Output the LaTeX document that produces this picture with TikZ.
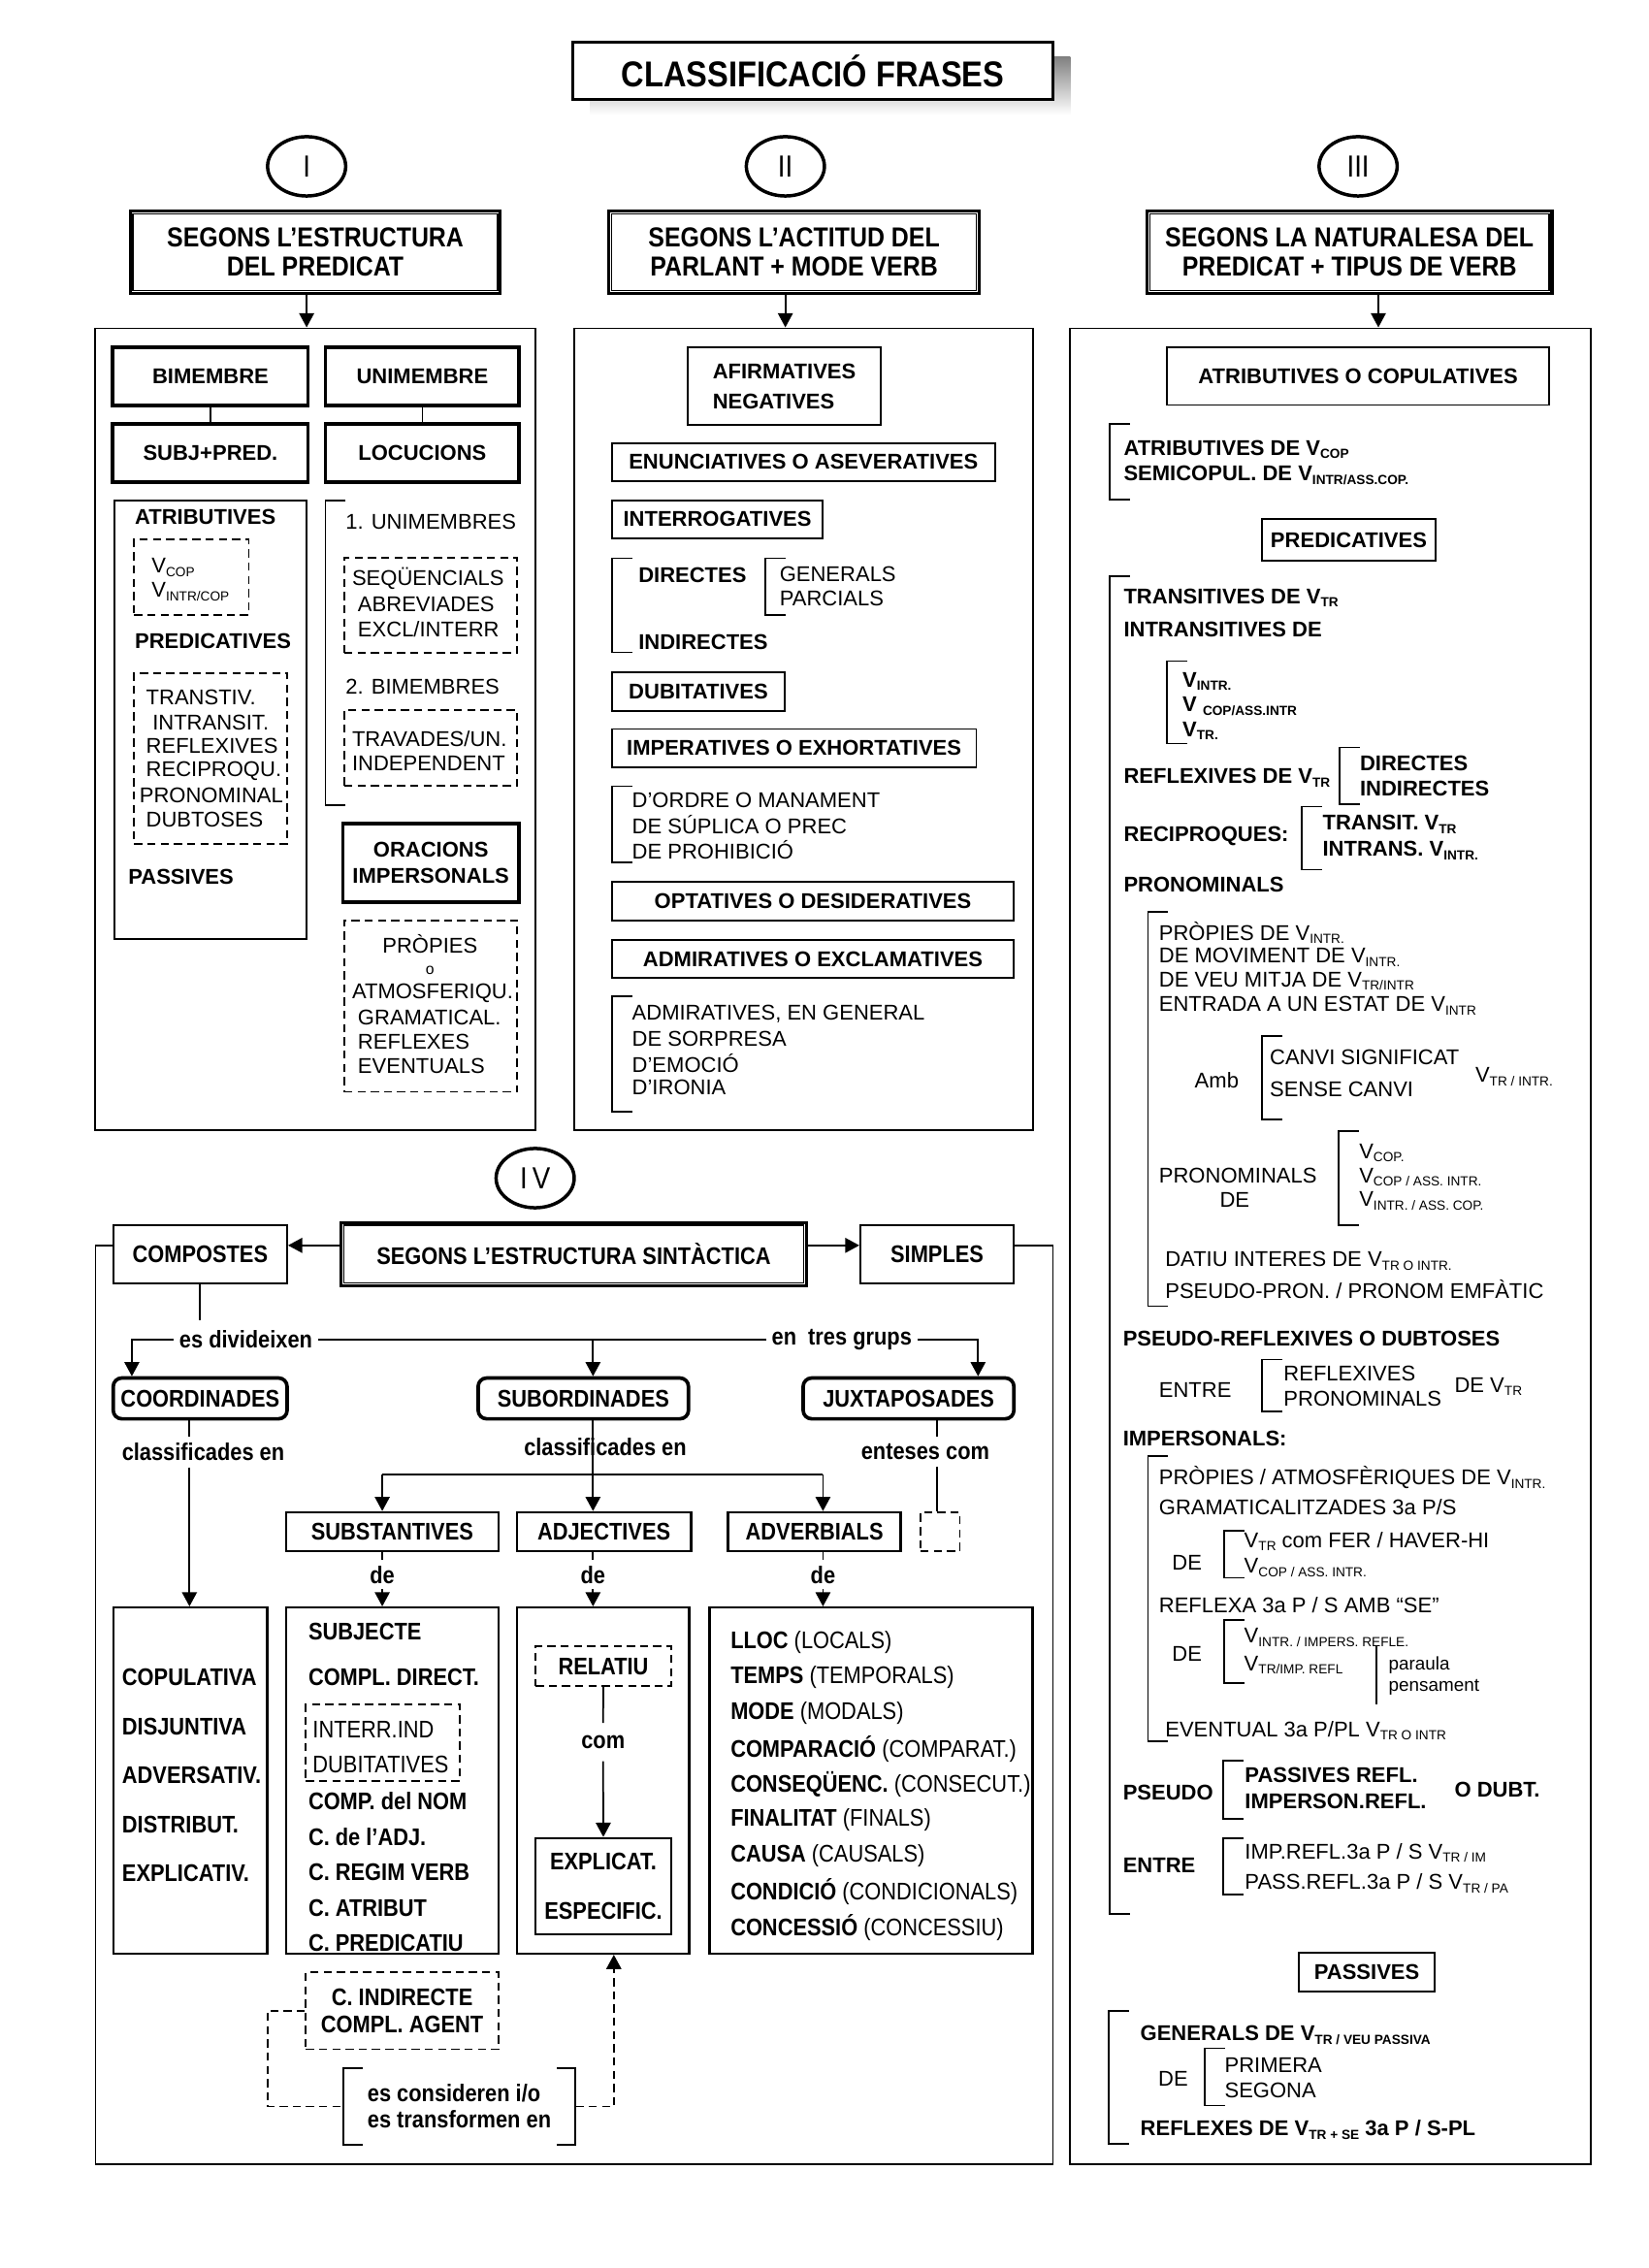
\documentclass[tikz,border=0pt]{standalone}
\usepackage{fontspec}
\setmainfont{Liberation Sans}
\newfontfamily\narrowf[FakeStretch=0.88]{Liberation Sans}
\usetikzlibrary{arrows.meta,shapes.geometric}
\definecolor{shade}{RGB}{198,190,202}
\newcommand{\fnr}{\fontsize{6.3}{7.6}\selectfont}
\newcommand{\fnb}{\fontsize{6.3}{7.6}\selectfont\bfseries}
\newcommand{\fiv}{\narrowf\fontsize{7.1}{7.7}\selectfont\bfseries}
\newcommand{\fivr}{\narrowf\fontsize{7.1}{7.7}\selectfont}
\newcommand{\fhead}{\narrowf\fontsize{8.1}{8.6}\selectfont\bfseries}
\newcommand{\sbx}[1]{\raisebox{-0.3ex}{\scalebox{0.62}{#1}}}
\newcommand{\innerframe}[1]{\draw[line width=0.4pt] ([shift={(3,3)}]#1.north west) rectangle ([shift={(-3,-3)}]#1.south east);}
\newcommand{\brk}[3]{\draw[brkline] (#1+14,#2) -- (#1,#2) -- (#1,#3) -- (#1+14,#3);}
\tikzset{sz/.style 2 args={minimum width=#1*0.15mm, minimum height=#2*0.15mm}}

\begin{document}
\begin{tikzpicture}[x=0.15mm, y=-0.15mm, >={Triangle[length=4.2pt,width=4.4pt]}]
\tikzstyle{lbl} = [anchor=west, inner sep=0pt, font=\fnr]
\tikzstyle{blbl} = [anchor=west, inner sep=0pt, font=\fnb]
\tikzstyle{ivlbl} = [anchor=west, inner sep=0pt, font=\fiv]
\tikzstyle{plainbox} = [draw, line width=0.55pt, inner sep=0pt]
\tikzstyle{heavybox} = [draw, line width=1.05pt, inner sep=0pt, font=\fnb]
\tikzstyle{dashbox} = [draw, line width=0.5pt, dash pattern=on 2.4pt off 1.5pt, inner sep=0pt]
\tikzstyle{roundbox} = [draw, line width=1.05pt, rounded corners=2.5pt, inner sep=0pt, font=\fiv]
\tikzstyle{headbox} = [draw, line width=0.9pt, inner sep=0pt, align=center]
\tikzstyle{numeral} = [draw, ellipse, line width=1pt, inner sep=0pt, sz={54}{41}, font=\narrowf\fontsize{9}{9}\selectfont]
\tikzstyle{brkline} = [line width=0.5pt]
\tikzstyle{link} = [line width=0.5pt]
\tikzstyle{dashlink} = [line width=0.5pt, dash pattern=on 2.4pt off 1.5pt]

\fill[white] (0,0) rectangle (1140,1568);
\useasboundingbox (0,0) rectangle (1140,1568);

% title
\fill[shade] (408,39) rectangle (740,79.3);
\node[draw, line width=0.8pt, fill=white, inner sep=0pt, sz={332}{40}, font=\narrowf\fontsize{10.6}{12}\selectfont\bfseries] (title) at (562,49) {CLASSIFICACIÓ FRASES};

\node[numeral] (numI) at (212,115) {I};
\node[numeral] (numII) at (543,115) {II};
\node[numeral] (numIII) at (939,115) {III};
\node[numeral] (numIV) at (370,814.5) {I\,V};

\node[headbox, sz={256}{57}, font=\fhead] (headI) at (218,174.5) {SEGONS L’ESTRUCTURA\\DEL PREDICAT};
\node[headbox, sz={256}{57}, font=\fhead] (headII) at (549,174.5) {SEGONS L’ACTITUD DEL\\PARLANT + MODE VERB};
\node[headbox, sz={280}{57}, font=\fhead] (headIII) at (933,174.5) {SEGONS LA NATURALESA DEL\\PREDICAT + TIPUS DE VERB};
\innerframe{headI}
\innerframe{headII}
\innerframe{headIII}

\node[plainbox, sz={304}{554}] (boxI) at (218,504) {};
\node[plainbox, sz={317}{554}] (boxII) at (555.5,504) {};
\node[plainbox, sz={360}{1269}] (boxIII) at (920,861.5) {};
\coordinate (arIII) at (953,200);
\draw[link,->] (headI.south -| numI) -- (boxI.north -| numI);
\draw[link,->] (headII.south -| numII) -- (boxII.north -| numII);
\draw[link,->] (headIII.south -| arIII) -- (boxIII.north -| arIII);

% I
\node[heavybox, sz={135}{40.5}] (bime) at (145.5,260.2) {BIMEMBRE};
\node[heavybox, sz={134}{40.5}] (unime) at (292,260.2) {UNIMEMBRE};
\node[heavybox, sz={135}{40.5}] (subj) at (145.5,313.2) {SUBJ+PRED.};
\node[heavybox, sz={134}{40.5}] (locu) at (292,313.2) {LOCUCIONS};
\draw[link] (bime.south) -- (subj.north);
\draw[link] (unime.south) -- (locu.north);

\node[plainbox, sz={133}{303.4}] (bilist) at (145.5,497.7) {};
\node[blbl] (atri) at (92.8,357.6) {ATRIBUTIVES};
\node[dashbox, sz={79.2}{52}] (vcop) at (132.4,399) {};
\node[lbl] (vcop1) at (104.4,392.3) {V\sbx{COP}};
\node[lbl] (vcop2) at (104.4,409) {V\sbx{INTR/COP}};
\node[blbl] (pred) at (92.8,443.3) {PREDICATIVES};
\node[dashbox, sz={105.7}{118}] (predl) at (145.65,524.4) {};
\node[lbl] (pr1) at (100.6,482.4) {TRANSTIV.};
\node[lbl] (pr2) at (105,499.6) {INTRANSIT.};
\node[lbl] (pr3) at (100.6,515.9) {REFLEXIVES};
\node[lbl] (pr4) at (100.6,533) {RECIPROQU.};
\node[lbl] (pr5) at (96,550) {PRONOMINAL};
\node[lbl] (pr6) at (100.6,566.7) {DUBTOSES};
\node[blbl] (pass) at (88.3,606.2) {PASSIVES};

\brk{225}{346}{556.6}
\node[lbl] (uni1) at (238.5,361) {1. UNIMEMBRES};
\node[dashbox, sz={119.7}{65.9}] (unil) at (297.85,418.55) {};
\node[lbl] (un1) at (243,400) {SEQÜENCIALS};
\node[lbl] (un2) at (247,417.6) {ABREVIADES};
\node[lbl] (un3) at (247,435) {EXCL/INTERR};
\node[lbl] (bim2) at (238.5,475) {2. BIMEMBRES};
\node[dashbox, sz={119.7}{52.2}] (biml) at (297.85,517.1) {};
\node[lbl] (bm1) at (243,510.8) {TRAVADES/UN.};
\node[lbl] (bm2) at (243,527.5) {INDEPENDENT};
\node[heavybox, sz={121.8}{54.1}, align=center] (orac) at (297.9,596.65) {ORACIONS\\IMPERSONALS};
\node[dashbox, sz={119.7}{118.5}] (oracl) at (297.85,695.65) {};
\node[inner sep=0pt, font=\fnr] (or1) at (297.3,652.7) {PRÒPIES};
\node[inner sep=0pt, font=\fontsize{4.5}{5}\selectfont] (or2) at (297.3,670.6) {o};
\node[lbl] (or3) at (243,687) {ATMOSFERIQU.};
\node[lbl] (or4) at (247,703.7) {GRAMATICAL.};
\node[lbl] (or5) at (247,720.5) {REFLEXES};
\node[lbl] (or6) at (247,737.2) {EVENTUALS};

% II
\node[plainbox, sz={133.5}{54}, align=left, font=\fontsize{6.3}{8.8}\selectfont\bfseries] (afirm) at (542.25,267) {AFIRMATIVES\\NEGATIVES};
\node[plainbox, sz={265}{26.3}, font=\fnb] (enun) at (555.5,319.45) {ENUNCIATIVES O ASEVERATIVES};
\node[plainbox, sz={146}{26}, font=\fnb] (inter) at (496,359) {INTERROGATIVES};
\brk{423}{386}{451}
\node[blbl] (dir) at (441,397.8) {DIRECTES};
\node[blbl] (indir) at (441,444) {INDIRECTES};
\brk{529}{386}{425}
\node[lbl] (gen) at (538.6,397) {GENERALS};
\node[lbl] (parc) at (538.6,413.6) {PARCIALS};
\node[plainbox, sz={119.7}{26.5}, font=\fnb] (dubi) at (482.85,478.25) {DUBITATIVES};
\node[plainbox, sz={252}{26.5}, font=\fnb] (imper) at (549,517.25) {IMPERATIVES O EXHORTATIVES};
\brk{423}{543.6}{596}
\node[lbl] (im1) at (436.6,553) {D’ORDRE O MANAMENT};
\node[lbl] (im2) at (436.6,570) {DE SÚPLICA O PREC};
\node[lbl] (im3) at (436.6,587.5) {DE PROHIBICIÓ};
\node[plainbox, sz={278}{27}, font=\fnb] (opta) at (562,623.1) {OPTATIVES O DESIDERATIVES};
\node[plainbox, sz={278}{26}, font=\fnb] (admi) at (562,663) {ADMIRATIVES O EXCLAMATIVES};
\brk{423}{689}{768.6}
\node[lbl] (ad1) at (436.6,701) {ADMIRATIVES, EN GENERAL};
\node[lbl] (ad2) at (436.6,718) {DE SORPRESA};
\node[lbl] (ad3) at (436.6,735) {D’EMOCIÓ};
\node[lbl] (ad4) at (436.6,752) {D’IRONIA};

% III
\node[plainbox, sz={264}{40}, font=\fnb] (copul) at (939,260) {ATRIBUTIVES O COPULATIVES};
\brk{767}{293.3}{345.4}
\node[blbl] (at1) at (776.5,310.7) {ATRIBUTIVES DE V\sbx{COP}};
\node[blbl] (at2) at (776.5,328.6) {SEMICOPUL. DE V\sbx{INTR/ASS.COP.}};
\node[plainbox, sz={120.5}{29}, font=\fnb] (predi) at (932.55,373.3) {PREDICATIVES};
\brk{767}{398.3}{1323.3}
\node[blbl] (tr1) at (776.5,413.5) {TRANSITIVES DE V\sbx{TR}};
\node[blbl] (tr2) at (776.5,435.4) {INTRANSITIVES DE};
\brk{807}{457}{514}
\node[blbl] (vi1) at (817.2,471) {V\sbx{INTR.}};
\node[blbl] (vi2) at (817.2,488.4) {V\ \sbx{COP/ASS.INTR}};
\node[blbl] (vi3) at (817.2,505.2) {V\sbx{TR.}};
\node[blbl] (refl) at (776.5,537.6) {REFLEXIVES DE V\sbx{TR}};
\brk{926}{516.8}{556}
\node[blbl] (rf1) at (939.8,527.5) {DIRECTES};
\node[blbl] (rf2) at (939.8,545) {INDIRECTES};
\node[blbl] (reci) at (776.5,577.8) {RECIPROQUES:};
\brk{900}{557.7}{601.3}
\node[blbl] (rc1) at (914,570) {TRANSIT. V\sbx{TR}};
\node[blbl] (rc2) at (914,588) {INTRANS. V\sbx{INTR.}};
\node[blbl] (pron) at (776.5,611.4) {PRONOMINALS};
\brk{793.7}{630.4}{903.1}
\node[lbl] (pn1) at (800.9,644.9) {PRÒPIES DE V\sbx{INTR.}};
\node[lbl] (pn2) at (800.9,661.7) {DE MOVIMENT DE V\sbx{INTR.}};
\node[lbl] (pn3) at (800.9,678.4) {DE VEU MITJA DE V\sbx{TR/INTR}};
\node[lbl] (pn4) at (800.9,695.2) {ENTRADA A UN ESTAT DE V\sbx{INTR}};
\node[lbl] (amb) at (825.6,746.6) {Amb};
\brk{872.7}{716.4}{773.9}
\node[lbl] (cv1) at (877.5,731) {CANVI SIGNIFICAT};
\node[lbl] (cv2) at (877.5,752.9) {SENSE CANVI};
\node[lbl] (cv3) at (1019.6,744.4) {V\sbx{TR / INTR.}};
\node[lbl] (prde1) at (800.9,812.6) {PRONOMINALS};
\node[inner sep=0pt, font=\fnr] (prde2) at (853.6,829.8) {DE};
\brk{925.4}{782}{847.2}
\node[lbl] (pd1) at (939.3,796.9) {V\sbx{COP.}};
\node[lbl] (pd2) at (939.3,813.7) {V\sbx{COP / ASS. INTR.}};
\node[lbl] (pd3) at (939.3,830.4) {V\sbx{INTR. / ASS. COP.}};
\node[lbl] (dat) at (805.2,871.8) {DATIU INTERES DE V\sbx{TR O INTR.}};
\node[lbl] (psp) at (805.2,891.5) {PSEUDO-PRON. / PRONOM EMFÀTIC};
\node[blbl] (psr) at (776,925.4) {PSEUDO-REFLEXIVES O DUBTOSES};
\node[lbl] (ent1) at (800.9,960.8) {ENTRE};
\brk{872.7}{940}{975.7}
\node[lbl] (en1) at (887.1,949.6) {REFLEXIVES};
\node[lbl] (en2) at (887.1,966.8) {PRONOMINALS};
\node[lbl] (en3) at (1005.2,958.5) {DE V\sbx{TR}};
\node[blbl] (impe) at (776,994.7) {IMPERSONALS:};
\brk{793.7}{1006.4}{1203.7}
\node[lbl] (ip1) at (800.9,1021.6) {PRÒPIES / ATMOSFÈRIQUES DE V\sbx{INTR.}};
\node[lbl] (ip2) at (800.9,1041.7) {GRAMATICALITZADES 3a P/S};
\node[lbl] (de1) at (810,1080.1) {DE};
\brk{846.3}{1058.4}{1090.8}
\node[lbl] (ip3) at (859.8,1065.8) {V\sbx{TR} com FER / HAVER-HI};
\node[lbl] (ip4) at (859.8,1083.7) {V\sbx{COP / ASS. INTR.}};
\node[lbl] (ip5) at (800.9,1109.9) {REFLEXA 3a P / S AMB “SE”};
\node[lbl] (de2) at (810,1143.4) {DE};
\brk{846.3}{1119.9}{1163.5}
\node[lbl] (ip6) at (859.8,1132.2) {V\sbx{INTR. / IMPERS. REFLE.}};
\node[lbl] (ip7) at (859.8,1151.2) {V\sbx{TR/IMP. REFL}};
\draw[brkline] (951.8,1137.8) -- (951.8,1178);
\node[anchor=west, inner sep=0pt, font=\fontsize{5.4}{6}\selectfont] (para) at (959.7,1151.2) {paraula};
\node[anchor=west, inner sep=0pt, font=\fontsize{5.4}{6}\selectfont] (pens) at (959.7,1166.4) {pensament};
\node[lbl] (ip8) at (805.2,1196.5) {EVENTUAL 3a P/PL V\sbx{TR O INTR}};
\node[blbl] (pseu) at (776,1239.5) {PSEUDO};
\brk{845.9}{1217.1}{1257.4}
\node[blbl] (ps1) at (860.3,1227.2) {PASSIVES REFL.};
\node[blbl] (ps2) at (860.3,1245.1) {IMPERSON.REFL.};
\node[blbl] (ps3) at (1005.2,1237.3) {O DUBT.};
\node[blbl] (ent2) at (776,1289.8) {ENTRE};
\brk{845.9}{1270.8}{1309.9}
\node[lbl] (et1) at (860.3,1280.9) {IMP.REFL.3a P / S V\sbx{TR / IM}};
\node[lbl] (et2) at (860.3,1302.1) {PASS.REFL.3a P / S V\sbx{TR / PA}};
\node[plainbox, sz={93.9}{26.8}, font=\fnb] (passi) at (945,1363.6) {PASSIVES};
\brk{766.4}{1390.4}{1482}
\node[blbl] (pa1) at (788,1407.1) {GENERALS DE V\sbx{TR / VEU PASSIVA}};
\node[lbl] (de3) at (800.4,1437.3) {DE};
\brk{832.8}{1416.1}{1455.7}
\node[lbl] (pa2) at (846.3,1428) {PRIMERA};
\node[lbl] (pa3) at (846.3,1445.2) {SEGONA};
\node[blbl] (pa4) at (788,1472.6) {REFLEXES DE V\sbx{TR + SE} 3a P / S-PL};

% IV
\node[headbox, sz={322}{43.8}, font=\fiv] (headIV) at (396.7,867.1) {SEGONS L’ESTRUCTURA SINTÀCTICA};
\innerframe{headIV}
\node[plainbox, sz={120.2}{39.8}, font=\fiv] (comp) at (138.4,867.1) {COMPOSTES};
\node[plainbox, sz={106.2}{39.8}, font=\fiv] (simp) at (647.9,867.1) {SIMPLES};
\coordinate (ivl) at (66,861);
\draw[link] (comp.west |- ivl) -- (ivl) -- (66,1496) -- (728,1496) -- (728,861) -- (simp.east |- ivl);
\draw[link,->] (headIV.west |- ivl) -- (comp.east |- ivl);
\draw[link,->] (headIV.east |- ivl) -- (simp.west |- ivl);

\node[roundbox, sz={120.2}{28.2}] (coord) at (138.4,966.8) {COORDINADES};
\node[roundbox, sz={145.4}{28.2}] (subo) at (403.3,966.8) {SUBORDINADES};
\node[roundbox, sz={145.7}{28.2}] (juxt) at (628.15,966.8) {JUXTAPOSADES};
\node[font=\fiv, inner xsep=1.5pt, inner ysep=0pt] (divid) at (170,926) {es divideixen};
\node[font=\fiv, inner xsep=1.5pt, inner ysep=0pt] (grups) at (582,926) {en~ tres grups};
\coordinate (compend) at (138.4,913);
\draw[link] (comp.south) -- (compend);
\draw[link,->] (divid.west) -| ([shift={(14.1,0)}]coord.north west);
\draw[link] (divid.east) -- (grups.west);
\draw[link,->] (grups.east) -| ([shift={(-26,0)}]juxt.north east);
\coordinate (mid) at (410,926);
\draw[link,->] (mid) -- (mid |- subo.north);

\node[plainbox, line width=0.7pt, sz={146.8}{26.8}, font=\fiv] (subst) at (271.2,1058.9) {SUBSTANTIVES};
\node[plainbox, line width=0.7pt, sz={120.3}{26.8}, font=\fiv] (adje) at (417.55,1058.9) {ADJECTIVES};
\node[plainbox, line width=0.7pt, sz={119.4}{26.8}, font=\fiv] (adve) at (563.1,1058.9) {ADVERBIALS};
\node[dashbox, sz={27.2}{26.8}] (blank) at (650,1058.9) {};

\node[plainbox, line width=0.7pt, sz={106.5}{239.2}] (colist) at (131.65,1231) {};
\node[plainbox, line width=0.7pt, sz={146.8}{239.2}] (sblist) at (271.2,1231) {};
\node[plainbox, line width=0.7pt, sz={119}{239.2}] (adlist) at (416.9,1231) {};
\node[plainbox, line width=0.7pt, sz={223.5}{239.2}] (avlist) at (602.25,1231) {};

\node[font=\fiv, inner xsep=0pt, inner ysep=1.8pt] (clsA) at (140.5,1003.7) {classificades en};
\coordinate (colA) at (131,1000);
\draw[link] (coord.south -| colA) -- (clsA.north -| colA);
\draw[link,->] (clsA.south -| colA) -- (colist.north -| colA);

\node[font=\fiv, inner sep=0pt] (clsB) at (418.5,1000.3) {classificades en};
\coordinate (sa) at (264.3,1019.3);
\coordinate (sb) at (410,1019.3);
\coordinate (sc) at (569,1019.3);
\draw[link] (subo.south -| sb) -- (sb);
\draw[link] (sa) -- (sc);
\draw[link,->] (sa) -- (sa |- subst.north);
\draw[link,->] (sb) -- (sb |- adje.north);
\draw[link,->] (sc) -- (sc |- adve.north);

\node[font=\fiv, inner xsep=0pt, inner ysep=1.8pt] (ente) at (639.75,1003.7) {enteses com};
\coordinate (colJ) at (647.6,1000);
\draw[link] (juxt.south -| colJ) -- (ente.north -| colJ);
\draw[link] (ente.south -| colJ) -- (blank.north -| colJ);

\node[font=\fiv, inner xsep=0pt, inner ysep=1.5pt] (deA) at (264.3,1088.6) {de};
\node[font=\fiv, inner xsep=0pt, inner ysep=1.5pt] (deB) at (410,1088.6) {de};
\node[font=\fiv, inner xsep=0pt, inner ysep=1.5pt] (deC) at (569,1088.6) {de};
\draw[link] (subst.south -| deA) -- (deA.north);
\draw[link,->] (deA.south) -- (deA.south |- sblist.north);
\draw[link] (adje.south -| deB) -- (deB.north);
\draw[link,->] (deB.south) -- (deB.south |- adlist.north);
\draw[link] (adve.south -| deC) -- (deC.north);
\draw[link,->] (deC.south) -- (deC.south |- avlist.north);

\foreach \t [count=\i] in {COPULATIVA, DISJUNTIVA, ADVERSATIV., DISTRIBUT., EXPLICATIV.}
  \node[ivlbl] (co\i) at (84,1159.7+33.9*\i-33.9) {\t};

\node[ivlbl] (sb1) at (212.8,1127.7) {SUBJECTE};
\node[ivlbl] (sb2) at (212.8,1159.7) {COMPL. DIRECT.};
\node[dashbox, sz={106.5}{52.7}] (interr) at (264.75,1204.85) {};
\node[anchor=west, inner sep=0pt, font=\fivr] (ii1) at (215.8,1195.9) {INTERR.IND};
\node[anchor=west, inner sep=0pt, font=\fivr] (ii2) at (215.8,1220) {DUBITATIVES};
\foreach \t [count=\i] in {COMP. del NOM, C. de l’ADJ., C. REGIM VERB, C. ATRIBUT, C. PREDICATIU}
  \node[ivlbl] (sc\i) at (212.8,1245.1+24.6*\i-24.6) {\t};

\node[dashbox, sz={93.7}{27.5}, font=\fiv] (relat) at (417.15,1152) {RELATIU};
\node[font=\fiv, inner xsep=0pt, inner ysep=3.5pt] (com) at (417,1204.4) {com};
\node[plainbox, line width=0.7pt, sz={93.7}{66.6}, align=center, font=\narrowf\fontsize{7.1}{14.8}\selectfont\bfseries] (expl) at (417.15,1304.1) {EXPLICAT.\\ESPECIFIC.};
\draw[link] (relat.south) -- (com.north);
\draw[link,->] (com.south) -- (expl.north);

\foreach \a/\b [count=\i] in {LLOC/LOCALS, TEMPS/TEMPORALS, MODE/MODALS, COMPARACIÓ/COMPARAT., CONSEQÜENC./CONSECUT., FINALITAT/FINALS, CAUSA/CAUSALS, CONDICIÓ/CONDICIONALS, CONCESSIÓ/CONCESSIU}
  \node[ivlbl] (av\i) at (504.7,1135.2+24.64*\i-24.64) {\a\ {\mdseries(\b)}};

\node[dashbox, sz={133.1}{53.2}, align=center, font=\narrowf\fontsize{7.1}{7.8}\selectfont\bfseries] (cind) at (278.05,1390.2) {C. INDIRECTE\\COMPL. AGENT};
\node[sz={159.7}{52.3}, inner sep=0pt, align=left, font=\fiv] (cons) at (317.55,1456.35) {es consideren i/o\\es transformen en};
\draw[brkline] ([shift={(13.7,0)}]cons.north west) -- (cons.north west) -- (cons.south west) -- ([shift={(13.7,0)}]cons.south west);
\draw[brkline] ([shift={(-12.9,0)}]cons.north east) -- (cons.north east) -- (cons.south east) -- ([shift={(-12.9,0)}]cons.south east);
\coordinate (dl) at (184.9,1420);
\draw[dashlink] (cind.west) -- (cind.west -| dl) |- (cons.west);
\draw[dashlink,->] (cons.east) -| ([shift={(7.5,0)}]adlist.south);
\end{tikzpicture}
\end{document}
